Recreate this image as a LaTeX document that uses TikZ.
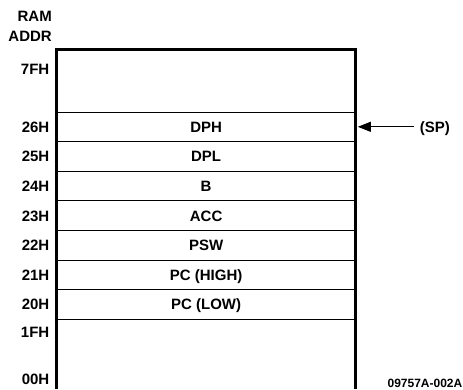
\documentclass[tikz,border=0pt]{standalone}
\usepackage{fontspec}
\setmainfont{Liberation Sans}
\usetikzlibrary{positioning,arrows.meta}

\tikzset{
  cell/.style={draw, line width=1pt, minimum width=299.3pt, minimum height=29.6pt,
    inner sep=0pt, outer sep=0pt, text height=10.8pt, text depth=0pt,
    font=\fontsize{15}{17}\selectfont\bfseries},
  addr/.style={inner sep=0pt, text height=10.8pt, text depth=0pt,
    font=\fontsize{15}{17}\selectfont\bfseries},
  frame/.style={line width=2.8pt},
}

\begin{document}
\begin{tikzpicture}[x=1pt,y=-1pt]
    \useasboundingbox (0,0) rectangle (463,389);

    % stack cells
    \node[cell] (dph) at (206.15,126.8) {DPH};
    \node[cell, below=0pt of dph] (dpl) {DPL};
    \node[cell, below=0pt of dpl] (b) {B};
    \node[cell, below=0pt of b] (acc) {ACC};
    \node[cell, below=0pt of acc] (psw) {PSW};
    \node[cell, below=0pt of psw] (pchigh) {PC (HIGH)};
    \node[cell, below=0pt of pchigh] (pclow) {PC (LOW)};

    % outer frame, open at the bottom
    \draw[frame] (56.5,389) -- (56.5,49.5) -- (355.8,49.5) -- (355.8,389);

    % addresses
    \node[addr, anchor=base east] (ram) at (52,21.7) {RAM};
    \node[addr, anchor=base east] (addr) at (52,41.7) {ADDR};
    \node[addr, anchor=east] (a7f) at (49.5,68.7) {7FH};
    \node[addr, left=7pt of dph.west] (a26) {26H};
    \node[addr, left=7pt of dpl.west] (a25) {25H};
    \node[addr, left=7pt of b.west] (a24) {24H};
    \node[addr, left=7pt of acc.west] (a23) {23H};
    \node[addr, left=7pt of psw.west] (a22) {22H};
    \node[addr, left=7pt of pchigh.west] (a21) {21H};
    \node[addr, left=7pt of pclow.west] (a20) {20H};
    \node[addr, anchor=east] (a1f) at (49.5,332) {1FH};
    \node[addr, anchor=east] (a00) at (49.5,379.3) {00H};

    % stack pointer
    \node[addr, right=58pt of dph.east, outer sep=6pt] (sp) {(SP)};
    \draw[line width=1pt, -{Triangle[length=13pt,width=10pt]}, shorten >=2pt] (sp.west) -- (dph.east);

    \node[inner sep=0pt, anchor=east, font=\fontsize{12}{14}\selectfont\bfseries] (fig) at (462.5,383) {09757A-002A};
\end{tikzpicture}
\end{document}
